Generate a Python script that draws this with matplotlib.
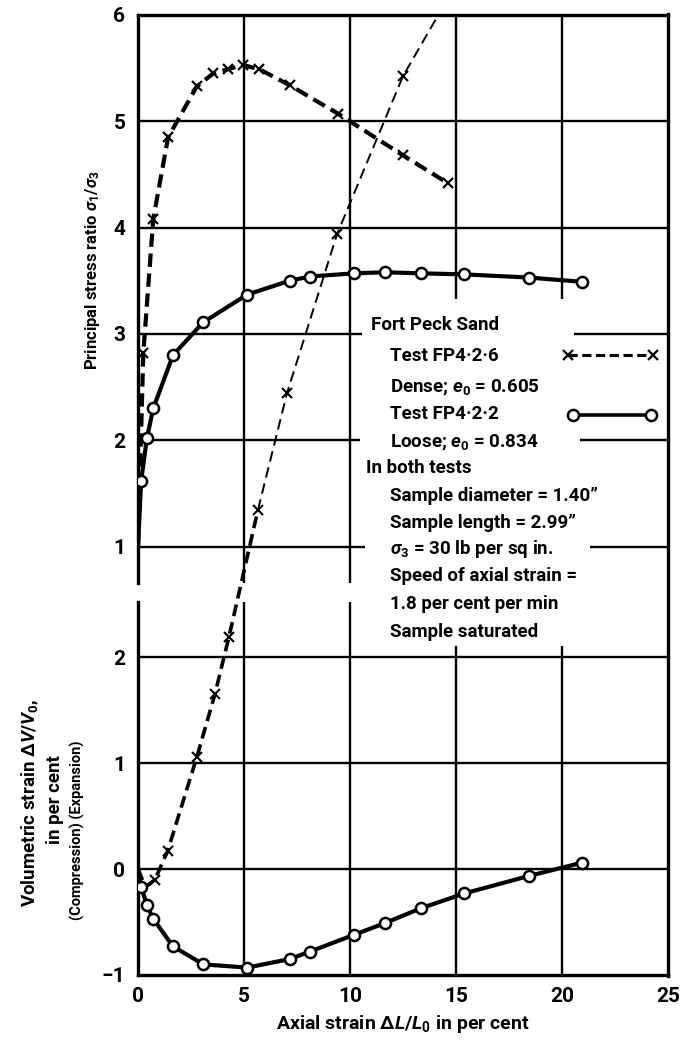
import matplotlib
matplotlib.use("Agg")
import matplotlib.pyplot as plt
from matplotlib.transforms import Bbox, TransformedBbox

plt.rcParams['font.family'] = ['Roboto', 'DejaVu Sans']
plt.rcParams['font.weight'] = 'bold'
plt.rcParams['mathtext.fontset'] = 'custom'
plt.rcParams['mathtext.rm'] = 'Roboto:bold'
plt.rcParams['mathtext.it'] = 'Roboto:italic:bold'
plt.rcParams['mathtext.bf'] = 'Roboto:bold'

# ---- Test FP4-2-6 (dense) ----
dense_strain = [0.0, 0.25, 0.72, 1.42, 2.78, 3.55, 4.25, 4.95, 5.72, 7.15, 9.45, 12.5, 14.6]
dense_ratio = [1.0, 2.82, 4.08, 4.85, 5.33, 5.45, 5.49, 5.53, 5.49, 5.34, 5.07, 4.68, 4.42]
dense_vol_strain = [0.0, 0.35, 0.8, 1.4, 2.78, 3.63, 4.29, 5.66, 7.03, 9.39, 12.5, 14.2]
dense_vol = [0.0, -0.17, -0.10, 0.17, 1.06, 1.65, 2.19, 3.39, 4.49, 5.99, 7.48, 8.07]

# ---- Test FP4-2-2 (loose) ----
loose_strain = [0.0, 0.15, 0.42, 0.72, 1.65, 3.08, 5.15, 7.15, 8.1, 10.2, 11.65, 13.35, 15.4, 18.45, 20.95]
loose_ratio = [1.0, 1.62, 2.02, 2.30, 2.80, 3.11, 3.37, 3.50, 3.54, 3.57, 3.58, 3.57, 3.56, 3.53, 3.49]
loose_vol = [0.0, -0.17, -0.34, -0.47, -0.73, -0.90, -0.93, -0.85, -0.78, -0.62, -0.51, -0.37, -0.23, -0.065, 0.06]

x_ticks = [0, 5, 10, 15, 20, 25]
x_ticklabels = ["0", "5", "10", "15", "20", "25"]
ratio_ticks = [1, 2, 3, 4, 5, 6]
ratio_ticklabels = ["1", "2", "3", "4", "5", "6"]
vol_ticks = [-1, 0, 1, 2]
vol_ticklabels = ["\u22121", "0", "1", "2"]

legend_lines = [
    (371, 324, "Fort Peck Sand"),
    (390, 355, "Test FP4\u00b72\u00b76"),
    (390, 386, "Dense; $e_0$ = 0.605"),
    (390, 413, "Test FP4\u00b72\u00b72"),
    (390, 441, "Loose; $e_0$ = 0.834"),
    (366, 467, "In both tests"),
    (390, 495, "Sample diameter = 1.40\u201d"),
    (390, 522, "Sample length = 2.99\u201d"),
    (390, 548, "$\\sigma_3$ = 30 lb per sq in."),
    (390, 575, "Speed of axial strain ="),
    (390, 603, "1.8 per cent per min"),
    (390, 631, "Sample saturated"),
]

W, H = 684, 1040
fig = plt.figure(figsize=(W / 100, H / 100), dpi=100)


def fx(px):
    return px / W


def fy(py):
    return 1 - py / H


L, R = 138, 668
UP_TOP, UP_BOT = 15, 583
LO_TOP, LO_BOT = 602, 975

ax_up = fig.add_axes([fx(L), fy(UP_BOT), fx(R) - fx(L), fy(UP_TOP) - fy(UP_BOT)])
ax_lo = fig.add_axes([fx(L), fy(LO_BOT), fx(R) - fx(L), fy(LO_TOP) - fy(LO_BOT)])
ax_up.set_facecolor('none')
ax_lo.set_facecolor('none')

up_ylim = (0.657, 6.0)
lo_ylim = (-1.0, 2.519)
ax_up.set_xlim(0, 25)
ax_lo.set_xlim(0, 25)
ax_up.set_ylim(*up_ylim)
ax_lo.set_ylim(*lo_ylim)

SPINE_W = 2.4
for ax, shown in ((ax_up, ('left', 'top')), (ax_lo, ('left', 'bottom'))):
    for side, sp in ax.spines.items():
        sp.set_visible(side in shown)
        sp.set_linewidth(SPINE_W)
    ax.tick_params(length=0, labelsize=15, pad=9)

ax_up.set_xticks([])
ax_up.set_yticks(ratio_ticks)
ax_up.set_yticklabels(ratio_ticklabels, fontweight='bold')
ax_lo.set_xticks(x_ticks)
ax_lo.set_xticklabels(x_ticklabels, fontweight='bold')
ax_lo.set_yticks(vol_ticks)
ax_lo.set_yticklabels(vol_ticklabels, fontweight='bold')

# right-hand border runs unbroken through both panels
fig.add_artist(plt.Line2D([fx(R), fx(R)], [fy(UP_TOP - 1), fy(LO_BOT + 1)],
                          transform=fig.transFigure, color='black', lw=SPINE_W))

# grid, kept clear of the note block
G = dict(colors='black', linewidths=1.7, zorder=1)
ax_up.hlines([5, 4], 0, 25, **G)
for y, gap_a, gap_b in ((3, 10.57, 20.55), (2, 10.47, 20.85), (1, 10.7, 21.3)):
    ax_up.hlines(y, 0, gap_a, **G)
    ax_up.hlines(y, gap_b, 25, **G)
ax_up.vlines([5, 10], up_ylim[0], 6, **G)
ax_up.vlines([15, 20], 3.33, 6, **G)
ax_lo.hlines([2, 1, 0], 0, 25, **G)
ax_lo.vlines([5, 10], -1, lo_ylim[1], **G)
ax_lo.vlines([15, 20], -1, 2.1, **G)

# stress ratio curves
ax_up.plot(dense_strain, dense_ratio, color='black', lw=3.0, ls=(0, (3.2, 1.6)),
           marker='x', ms=7, mew=1.6, markevery=list(range(1, len(dense_strain))), zorder=3)
ax_up.plot(loose_strain, loose_ratio, color='black', lw=3.0, ls='-',
           marker='o', ms=8, mfc='white', mec='black', mew=1.8,
           markevery=list(range(1, len(loose_strain))), zorder=4)

# volumetric strain curves
ax_lo.plot(loose_strain, loose_vol, color='black', lw=3.0, ls='-',
           marker='o', ms=8, mfc='white', mec='black', mew=1.8,
           markevery=list(range(1, len(loose_strain))), zorder=4)

clip = TransformedBbox(Bbox.from_extents(fx(L), fy(LO_BOT), fx(R), fy(UP_TOP)), fig.transFigure)
split = 7
lo_part = ax_lo.plot(dense_vol_strain[:split + 1], dense_vol[:split + 1], color='black', lw=2.6,
                     ls=(0, (3.3, 1.7)), marker='x', ms=7, mew=1.5,
                     markevery=list(range(2, split + 1)), zorder=3)[0]
hi_part = ax_lo.plot(dense_vol_strain[split:], dense_vol[split:], color='black', lw=1.4,
                     ls=(0, (5.5, 3.0)), marker='x', ms=7, mew=1.5,
                     markevery=list(range(1, len(dense_vol_strain) - split - 1)), zorder=3)[0]
for ln in (lo_part, hi_part):
    ln.set_clip_on(True)
    ln.set_clip_box(clip)

# note block and keys
TXT = dict(fontsize=13.5, fontweight='bold', ha='left', va='baseline')
for x, y, s in legend_lines:
    fig.text(fx(x), fy(y + 6), s, **TXT)

ax_up.plot([20.3, 24.3], [6 - (355 - 15) / 106.3] * 2,
           color='black', lw=2.2, ls=(0, (3.0, 1.5)), marker='x', ms=7, mew=1.6, zorder=5)
ax_up.plot([20.5, 24.2], [6 - (415 - 15) / 106.3] * 2, color='black', lw=2.6, ls='-',
           marker='o', ms=8, mfc='white', mec='black', mew=1.8, zorder=5)

# axis titles
fig.text(fx(92), fy(270), "Principal stress ratio $\\sigma_1/\\sigma_3$", rotation=90,
         ha='center', va='center', fontsize=12, fontweight='bold')
fig.text(fx(30), fy(803), "Volumetric strain $\\Delta V/V_0$,", rotation=90,
         ha='center', va='center', fontsize=13.5, fontweight='bold')
fig.text(fx(55), fy(800), "in per cent", rotation=90,
         ha='center', va='center', fontsize=13.5, fontweight='bold')
fig.text(fx(77), fy(830), "(Compression) (Expansion)", rotation=90,
         ha='center', va='center', fontsize=10.5, fontweight='bold')
fig.text(fx(403), fy(1024), "Axial strain $\\Delta L/L_0$ in per cent",
         ha='center', va='center', fontsize=14, fontweight='bold')

fig.savefig("out.png", dpi=100)
